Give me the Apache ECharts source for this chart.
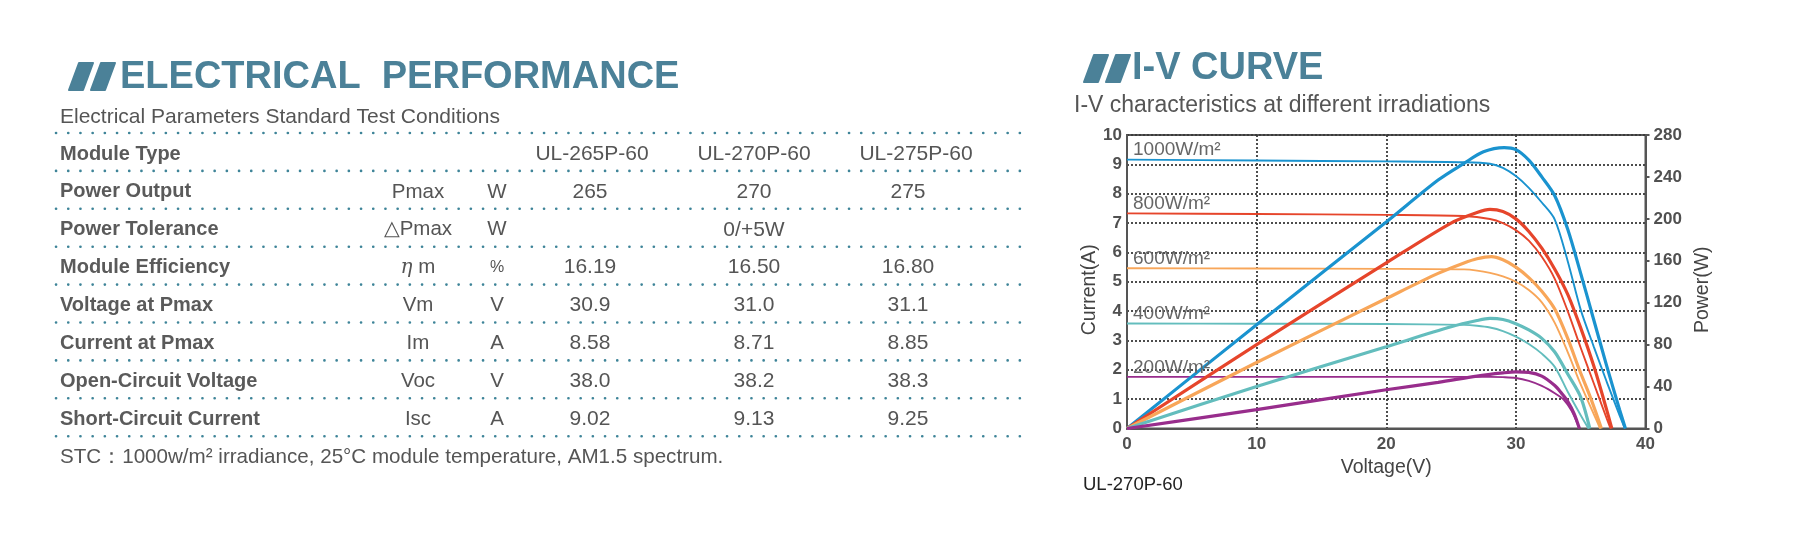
<!DOCTYPE html>
<html>
<head>
<meta charset="utf-8">
<style>
html,body{margin:0;padding:0;background:#ffffff;}
#c{width:1800px;height:559px;}
</style>
<script src="https://cdn.jsdelivr.net/npm/echarts@6/dist/echarts.min.js"></script>
</head>
<body>
<div id="c"></div>
<script>
// ---------------- Table data ----------------
const rowLabels = ['Module Type','Power Output','Power Tolerance','Module Efficiency','Voltage at Pmax','Current at Pmax','Open-Circuit Voltage','Short-Circuit Current'];
const rowSymbols = ['', 'Pmax', '△Pmax', '{i|η} m', 'Vm', 'Im', 'Voc', 'Isc'];
const rowUnits = ['', 'W', 'W', '%', 'V', 'A', 'V', 'A'];
const modelNames = ['UL-265P-60', 'UL-270P-60', 'UL-275P-60'];
const powerOutput = ['265', '270', '275'];
const powerTolerance = ['', '0/+5W', ''];
const moduleEfficiency = ['16.19', '16.50', '16.80'];
const voltageAtPmax = ['30.9', '31.0', '31.1'];
const currentAtPmax = ['8.58', '8.71', '8.85'];
const openCircuitVoltage = ['38.0', '38.2', '38.3'];
const shortCircuitCurrent = ['9.02', '9.13', '9.25'];
const stcNote = 'STC：1000w/m² irradiance, 25°C module temperature, AM1.5 spectrum.';

// ---------------- Curve data (V, I in A / P in W) ----------------
const irradianceLabels = ['1000W/m²', '800W/m²', '600W/m²', '400W/m²', '200W/m²'];

const v1000I = [0, 10, 20, 26, 28, 29, 30, 31, 32, 33, 34, 35, 36, 37, 38, 38.4];
const i1000  = [9.16, 9.13, 9.10, 9.07, 9.02, 8.88, 8.6, 8.2, 7.7, 7.12, 5.7, 4.05, 2.8, 1.6, 0.45, 0];
const v1000P = [0, 10, 20, 24, 26, 27.5, 29.1, 30, 31, 32, 33, 34, 35, 36, 37, 38, 38.45];
const p1000  = [0, 99, 197, 237, 253, 264, 268, 266, 256, 240, 222, 190, 148, 104, 60, 18, 0];

const v800I = [0, 10, 20, 26, 28, 29, 30, 31, 32, 33, 34, 35, 36, 37, 37.3];
const i800  = [7.33, 7.31, 7.28, 7.24, 7.14, 7.0, 6.76, 6.4, 5.85, 5.1, 4.0, 2.75, 1.55, 0.35, 0];
const v800P = [0, 10, 20, 25, 27, 28, 29, 30, 31, 32, 33, 34, 35, 36, 37, 37.4];
const p800  = [0, 80, 158, 196, 206, 209, 207, 200, 188, 172, 152, 128, 96, 60, 18, 0];

const v600I = [0, 10, 20, 26, 27, 28, 29, 30, 31, 32, 33, 34, 35, 36, 36.5];
const i600  = [5.46, 5.45, 5.44, 5.42, 5.38, 5.3, 5.18, 5.0, 4.72, 4.3, 3.6, 2.6, 1.5, 0.5, 0];
const v600P = [0, 10, 20, 24, 26, 27, 28.1, 29, 30, 31, 32, 33, 34, 34.9, 35.8, 36.6];
const p600  = [0, 63, 124, 148, 158, 162, 164, 161, 154, 144, 131, 114, 86, 56, 28, 0];

const v400I = [0, 10, 20, 26, 27, 28, 29, 30, 31, 32, 33, 34, 35, 35.6];
const i400  = [3.58, 3.57, 3.56, 3.53, 3.5, 3.44, 3.32, 3.13, 2.88, 2.55, 2.1, 1.25, 0.45, 0];
const v400P = [0, 10, 20, 25, 27, 28, 29, 30, 31, 32, 33, 34, 35, 35.7];
const p400  = [0, 40, 78, 97, 103, 105, 104, 100, 94, 86, 73, 52, 30, 0];

const v200I = [0, 10, 20, 28, 29, 30, 31, 32, 33, 33.7, 34.3, 34.9];
const i200  = [1.76, 1.76, 1.76, 1.76, 1.75, 1.72, 1.62, 1.45, 1.2, 0.98, 0.6, 0];
const v200P = [0, 10, 20, 24, 27, 29, 30, 31, 32, 33, 33.5, 34, 34.5, 34.9];
const p200  = [0, 18, 37, 44, 50, 53, 54, 53.5, 50, 41, 34, 26, 14, 0];

const voltageTicks = [0, 10, 20, 30, 40];
const currentTicks = [0, 1, 2, 3, 4, 5, 6, 7, 8, 9, 10];
const powerTicks = [0, 40, 80, 120, 160, 200, 240, 280];

// ---------------- Styles ----------------
const FONT = '"Liberation Sans", Arial, Helvetica, "DejaVu Sans", sans-serif';
const TITLE_COLOR = '#4b8198';
const DOT_COLOR = '#3e8498';
const curveColors = ['#1a93cf', '#e6452b', '#f8a659', '#63bdbd', '#982d8c'];

const ivVoltages = [v1000I, v800I, v600I, v400I, v200I];
const ivCurrents = [i1000, i800, i600, i400, i200];
const pvVoltages = [v1000P, v800P, v600P, v400P, v200P];
const pvPowers = [p1000, p800, p600, p400, p200];

const zip = (a, b) => a.map((x, k) => [x, b[k]]);

// ---------------- Graphic (headings + table) ----------------
const graphics = [];
function icon(x, y) {
  const h = 27, w = 14, s = 10, gap = 22;
  [0, 1].forEach(k => {
    const x0 = x + k * gap;
    graphics.push({
      type: 'polygon',
      shape: { points: [[x0, y + h], [x0 + w, y + h], [x0 + w + s, y], [x0 + s, y]] },
      style: { fill: TITLE_COLOR, stroke: TITLE_COLOR, lineWidth: 2, lineJoin: 'round' }
    });
  });
}
function text(x, y, str, opt) {
  graphics.push({
    type: 'text', x: x, y: y,
    style: Object.assign({
      text: str, fontFamily: FONT, fontSize: 20, fill: '#555',
      align: 'left', verticalAlign: 'middle'
    }, opt || {})
  });
}
function dots(y) {
  graphics.push({
    type: 'line',
    shape: { x1: 56, y1: y, x2: 1022, y2: y },
    style: { stroke: DOT_COLOR, lineWidth: 2.6, lineDash: [0.1, 12.1], lineCap: 'round' }
  });
}

// Left heading
icon(69, 63);
text(120, 78, 'ELECTRICAL  PERFORMANCE', { fontSize: 38, fontWeight: 'bold', fill: TITLE_COLOR });
text(60, 117, 'Electrical Parameters Standard Test Conditions', { fontSize: 21, fill: '#555' });

// Right heading
icon(1084, 55);
text(1132, 69, 'I-V CURVE', { fontSize: 38, fontWeight: 'bold', fill: TITLE_COLOR });
text(1074, 106, 'I-V characteristics at different irradiations', { fontSize: 23, fill: '#555' });

// Table
const ROW_Y0 = 154, ROW_H = 37.9, LINE_Y0 = 133;
const COL_LABEL = 60, COL_SYM = 418, COL_UNIT = 497, COL_VAL = [590, 754, 908];
const rowValues = [modelNames, powerOutput, powerTolerance, moduleEfficiency, voltageAtPmax, currentAtPmax, openCircuitVoltage, shortCircuitCurrent];

for (let r = 0; r <= rowLabels.length; r++) dots(LINE_Y0 + r * ROW_H);
rowLabels.forEach((lab, r) => {
  const y = ROW_Y0 + r * ROW_H;
  text(COL_LABEL, y, lab, { fontWeight: 'bold', fill: '#5a5a5a' });
  if (rowSymbols[r]) text(COL_SYM, y, rowSymbols[r], {
    align: 'center', fill: '#555', fontSize: 20.5,
    rich: { i: { fontStyle: 'italic', fontFamily: '"DejaVu Serif", serif', fontSize: 20, fill: '#555' } }
  });
  if (rowUnits[r]) text(COL_UNIT, y, rowUnits[r], { align: 'center', fill: '#555', fontSize: rowUnits[r] === '%' ? 16 : 20.5 });
  rowValues[r].forEach((v, c) => {
    if (v) text(r === 0 ? [592, 754, 916][c] : COL_VAL[c], y, v, { align: 'center', fill: '#555', fontSize: 21 });
  });
});
text(60, 457, stcNote, { fontSize: 20.6, fill: '#555' });

// Caption under chart
text(1083, 485, 'UL-270P-60', { fontSize: 18.5, fill: '#222' });

// ---------------- Series ----------------
const series = [];
irradianceLabels.forEach((lab, k) => {
  series.push({
    name: lab + ' I', type: 'line', xAxisIndex: 0, yAxisIndex: 0,
    data: zip(ivVoltages[k], ivCurrents[k]),
    smooth: 0.3, showSymbol: false, silent: true,
    lineStyle: { color: curveColors[k], width: 1.9 },
    z: 3,
    markPoint: {
      symbol: 'circle', symbolSize: 0, silent: true,
      data: [{ coord: [ivVoltages[k][0], ivCurrents[k][0]] }],
      label: {
        show: true, formatter: lab, position: [6, -19],
        color: '#666', fontSize: 19, fontFamily: FONT
      }
    }
  });
});
irradianceLabels.forEach((lab, k) => {
  series.push({
    name: lab + ' P', type: 'line', xAxisIndex: 0, yAxisIndex: 1,
    data: zip(pvVoltages[k], pvPowers[k]),
    smooth: 0.3, showSymbol: false, silent: true,
    lineStyle: { color: curveColors[k], width: 3.2 },
    z: 4
  });
});

const axisLabelStyle = { color: '#505050', fontWeight: 'bold', fontSize: 17, fontFamily: FONT };
const dotted = { type: [2, 2], color: '#3a3a3a', width: 1.8 };
const nameStyle = { fontSize: 19.5, color: '#444', fontFamily: FONT };

const option = {
  animation: false,
  backgroundColor: '#ffffff',
  grid: {
    left: 1127, top: 135, width: 518.5, height: 293.5,
    show: true, borderColor: '#555', borderWidth: 2, backgroundColor: 'transparent'
  },
  xAxis: {
    type: 'value', min: voltageTicks[0], max: voltageTicks[voltageTicks.length - 1], interval: 10,
    axisLine: { show: true, lineStyle: { color: '#555', width: 2 } },
    axisTick: { show: false },
    axisLabel: Object.assign({ margin: 7 }, axisLabelStyle),
    splitLine: { show: true, lineStyle: dotted },
    name: 'Voltage(V)', nameLocation: 'middle', nameGap: 22,
    nameTextStyle: nameStyle
  },
  yAxis: [{
    type: 'value', min: currentTicks[0], max: currentTicks[currentTicks.length - 1], interval: 1,
    axisLine: { show: true, lineStyle: { color: '#555', width: 2 } },
    axisTick: { show: false },
    axisLabel: Object.assign({ margin: 5 }, axisLabelStyle),
    splitLine: { show: true, lineStyle: dotted },
    name: 'Current(A)', nameLocation: 'middle', nameRotate: 90, nameGap: 25,
    nameTextStyle: Object.assign({ padding: [0, 16, 0, 0] }, nameStyle)
  }, {
    type: 'value', position: 'right', min: powerTicks[0], max: powerTicks[powerTicks.length - 1], interval: 40,
    axisLine: { show: true, lineStyle: { color: '#555', width: 2 } },
    axisTick: { show: true, inside: false, length: 4, lineStyle: { color: '#555', width: 2 } },
    axisLabel: Object.assign({ margin: 8 }, axisLabelStyle),
    splitLine: { show: false },
    name: 'Power(W)', nameLocation: 'middle', nameRotate: 90, nameGap: 47,
    nameTextStyle: Object.assign({ padding: [0, 16, 0, 0] }, nameStyle)
  }],
  series: series,
  graphic: { elements: graphics }
};

const chart = echarts.init(document.getElementById('c'));
chart.setOption(option);
</script>
</body>
</html>
